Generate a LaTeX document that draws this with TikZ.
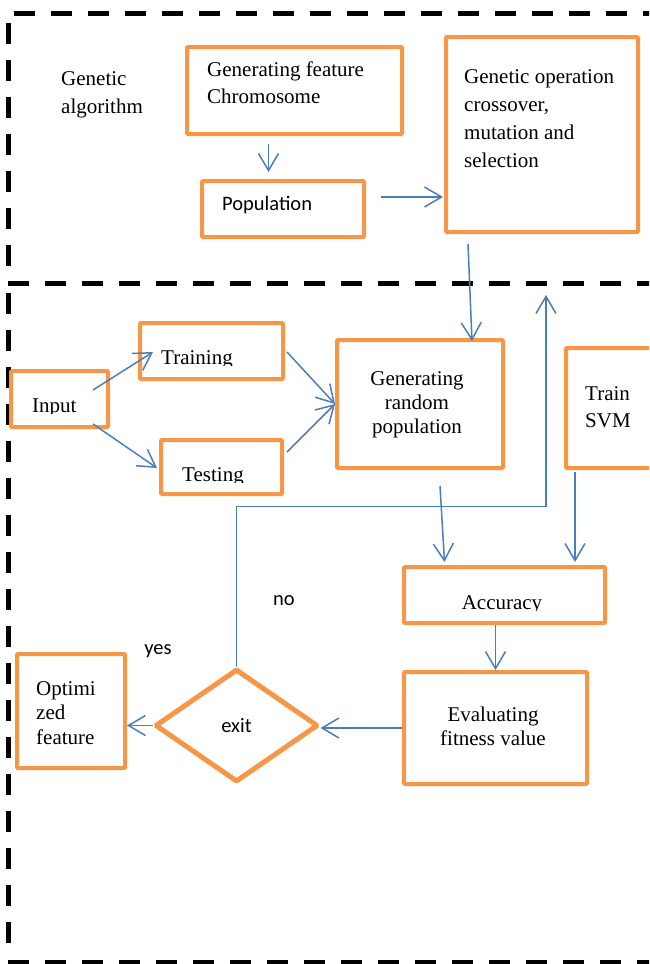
\documentclass[tikz,border=0pt]{standalone}
\usepackage{fontspec}
\setmainfont{Liberation Serif}
\newfontfamily\calibri{Carlito}
\usetikzlibrary{arrows.meta,shapes.geometric}

\definecolor{boxorange}{HTML}{F79646}
\definecolor{flowblue}{HTML}{4A7EBB}

\tikzset{
  box/.style={draw=boxorange, line width=4pt, anchor=north west, inner sep=0pt, rounded corners=1pt},
  txt/.style={inner sep=0pt, align=left, font=\fontsize{21}{27}\selectfont},
  sanstxt/.style={inner sep=0pt, font=\calibri\fontsize{20.5}{25}\selectfont},
  arr/.style={->, draw=flowblue, line width=1.5pt},
  frame/.style={line width=5pt, dash pattern=on 21pt off 16pt},
}

\begin{document}
\begin{tikzpicture}[x=1pt, y=-1pt, >={Straight Barb[length=17pt,width=20pt]}]
  \useasboundingbox (0,0) rectangle (649,964);
  \clip (0,0) rectangle (649,964);

  % Rahmen
  \draw[frame] (14,13) -- (670,13);
  \draw[frame] (8,23) -- (8,272);
  \draw[frame] (8,283) -- (670,283);
  \draw[frame] (8,293) -- (8,948);
  \draw[frame] (8,962) -- (670,962);

  % Kaesten
  \node[box, minimum width=215, minimum height=87] (feat) at (185,45) {};
  \node[box, minimum width=162, minimum height=56] (pop) at (200,179) {};
  \node[box, minimum width=192, minimum height=195] (genop) at (444,35) {};
  \node[box, minimum width=97, minimum height=56] (input) at (9,369) {};
  \node[box, minimum width=143, minimum height=56] (train) at (138,321) {};
  \node[box, minimum width=121, minimum height=54] (test) at (159,438) {};
  \node[box, minimum width=166, minimum height=128] (rand) at (335,338) {};
  \node[box, minimum width=136, minimum height=120] (svm) at (564,346) {};
  \node[box, minimum width=201, minimum height=56] (acc) at (402,565) {};
  \node[box, minimum width=183, minimum height=112] (eval) at (402,670) {};
  \node[box, minimum width=108, minimum height=114] (opt) at (15,652) {};
  \node[box, shape=diamond, anchor=center, line width=5pt, minimum width=163, minimum height=113,
        font=\calibri\fontsize{20.5}{25}\selectfont] (exit) at (236.5,725.5) {exit};

  % Beschriftungen (base = letzte Zeile)
  \node[txt, anchor=base west, font=\fontsize{21}{28}\selectfont] (algtxt) at (61,113) {Genetic\\algorithm};
  \node[txt, anchor=base west] (feattxt) at (207,103) {Generating feature\\Chromosome};
  \node[sanstxt, anchor=base west] (poptxt) at (222,210) {Population};
  \node[txt, anchor=base west, font=\fontsize{21}{28}\selectfont] (genoptxt) at (464,167)
    {Genetic operation\\crossover,\\mutation and\\selection};
  \begin{scope}
    \clip (20,380) rectangle (100,413.5);
    \node[txt, anchor=base west] (inputtxt) at (32,412) {Input};
  \end{scope}
  \begin{scope}
    \clip (150,330) rectangle (270,365.5);
    \node[txt, anchor=base west] (traintxt) at (161,364) {Training};
  \end{scope}
  \begin{scope}
    \clip (170,450) rectangle (270,482.5);
    \node[txt, anchor=base west] (testtxt) at (182,481) {Testing};
  \end{scope}
  \node[txt, anchor=base, align=center, font=\fontsize{21}{24}\selectfont] (randtxt) at (417,433)
    {Generating\\random\\population};
  \node[txt, anchor=base west] (svmtxt) at (585,427) {Train\\SVM};
  \begin{scope}
    \clip (420,580) rectangle (590,610.5);
    \node[txt, anchor=base] (acctxt) at (502,609) {Accuracy};
  \end{scope}
  \node[txt, anchor=base, align=center, font=\fontsize{21}{23.5}\selectfont] (evaltxt) at (493,745)
    {Evaluating\\fitness value};
  \node[txt, anchor=base west, font=\fontsize{21}{24.5}\selectfont] (opttxt) at (36,744)
    {Optimi\\zed\\feature};
  \node[sanstxt] (notxt) at (284,601) {no};
  \node[sanstxt] (yestxt) at (158,651) {yes};

  % Pfeile
  \draw[arr, shorten <=8pt, shorten >=7pt] ([xshift=-26pt]feat.south) -- ([xshift=-26pt]feat.south |- pop.north);
  \draw[arr, shorten <=15pt, shorten >=1pt] ([yshift=12pt]pop.east) -- ([yshift=12pt]pop.east -| genop.west);
  \draw[arr] ([shift={(-74,10)}]genop.south) -- ([shift={(52,3)}]rand.north);
  \draw[arr] ([shift={(-17,-9)}]input.east) -- ([shift={(15,1)}]train.west);
  \draw[arr] ([shift={(-17,25)}]input.east) -- ([shift={(-2,1)}]test.west);
  \draw[arr] ([shift={(2,1)}]train.east) -- (rand.west);
  \draw[arr] ([shift={(3,-15)}]test.east) -- (rand.west);
  \draw[arr] ([shift={(20,16)}]rand.south) -- ([shift={(-60,-3)}]acc.north);
  \draw[arr, shorten <=2pt, shorten >=3pt] ([xshift=-59pt]svm.south) -- ([xshift=-59pt]svm.south |- acc.north);
  \draw[arr] (eval.north |- acc.south) -- (eval.north);
  \draw[arr] (eval.west) -- (eval.west -| exit.east);
  \draw[arr] (exit.west) -- (exit.west -| opt.east);

  % Rueckfuehrung
  \coordinate (back) at (546,295);
  \draw[arr] (exit.north) -- ++(0,-160) -| (back);
\end{tikzpicture}
\end{document}
